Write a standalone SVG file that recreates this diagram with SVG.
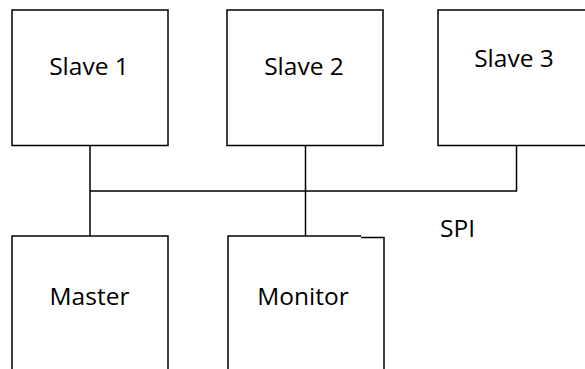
<svg xmlns="http://www.w3.org/2000/svg" width="585" height="369" viewBox="0 0 585 369">
<style>
.box{fill:#fff;stroke:#000;stroke-width:1.5}
.wire{fill:none;stroke:#000;stroke-width:1.5}
text{font-family:"Open Sans","Liberation Sans",sans-serif;font-size:24.5px;fill:#000;text-anchor:middle}
</style>
<rect width="585" height="369" fill="#fff"/>
<g id="connectors">
<path class="wire" d="M90 145.5V236"/>
<path class="wire" d="M90 191H516.5V145.5"/>
<path class="wire" d="M305.5 145.5V236"/>
</g>
<g id="slave1"><rect class="box" x="12" y="10" width="156" height="135.5"/><text x="89" y="75">Slave 1</text></g>
<g id="slave2"><rect class="box" x="227" y="10" width="156" height="135.5"/><text x="304" y="75">Slave 2</text></g>
<g id="slave3"><rect class="box" x="438" y="10" width="160" height="135.5"/><text x="514" y="67">Slave 3</text></g>
<g id="master"><path class="box" d="M12 375V236H168V375"/><text x="89.5" y="305">Master</text></g>
<g id="monitor"><path class="box" d="M228 375V236H361"/><path class="wire" d="M361 237.5H384V375"/><text x="303" y="305">Monitor</text></g>
<g id="spi"><text x="457.5" y="236.5">SPI</text></g>
</svg>
